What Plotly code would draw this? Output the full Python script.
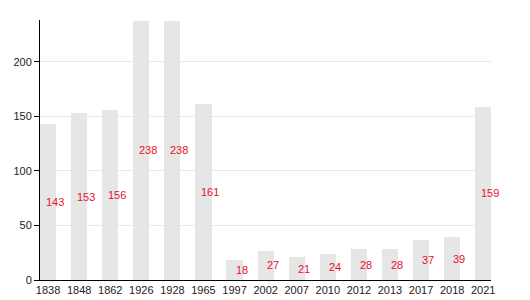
import plotly.graph_objects as go

years = ["1838", "1848", "1862", "1926", "1928", "1965", "1997", "2002",
         "2007", "2010", "2012", "2013", "2017", "2018", "2021"]
values = [143, 153, 156, 238, 238, 161, 18, 27, 21, 24, 28, 28, 37, 39, 159]
yticks = [0, 50, 100, 150, 200]

xs = list(range(len(years)))

fig = go.Figure()
fig.add_trace(go.Bar(
    x=xs, y=values, width=0.52,
    marker=dict(color="#e6e6e6", line=dict(width=0)),
    hoverinfo="skip",
))

annotations = []
for i, v in zip(xs, values):
    annotations.append(dict(
        x=i, y=v / 2, xref="x", yref="y", text=str(v), showarrow=False,
        xshift=7, font=dict(color="#e8102a", size=11,
                            family="Liberation Sans, Arial, sans-serif"),
    ))

fig.update_layout(
    width=530, height=300,
    margin=dict(l=40, r=39, t=20, b=20, autoexpand=False),
    plot_bgcolor="white", paper_bgcolor="white",
    showlegend=False,
    bargap=0,
    annotations=annotations,
    font=dict(family="Liberation Sans, Arial, sans-serif", size=11, color="#222"),
    xaxis=dict(
        range=[-0.26, 14.25], tickmode="array", tickvals=xs, ticktext=years,
        showgrid=False, showline=True, linecolor="black", linewidth=1,
        ticks="", zeroline=False, fixedrange=True, automargin=False,
        tickfont=dict(size=11, color="#222"),
    ),
    yaxis=dict(
        range=[0, 238.5], tickmode="array", tickvals=yticks,
        showgrid=True, gridcolor="#e8e8e8", gridwidth=1,
        showline=True, linecolor="black", linewidth=1,
        ticks="outside", ticklen=5, tickcolor="black",
        zeroline=False, fixedrange=True, automargin=False,
        tickfont=dict(size=11, color="#222"),
    ),
)

fig.write_html("out.html")
